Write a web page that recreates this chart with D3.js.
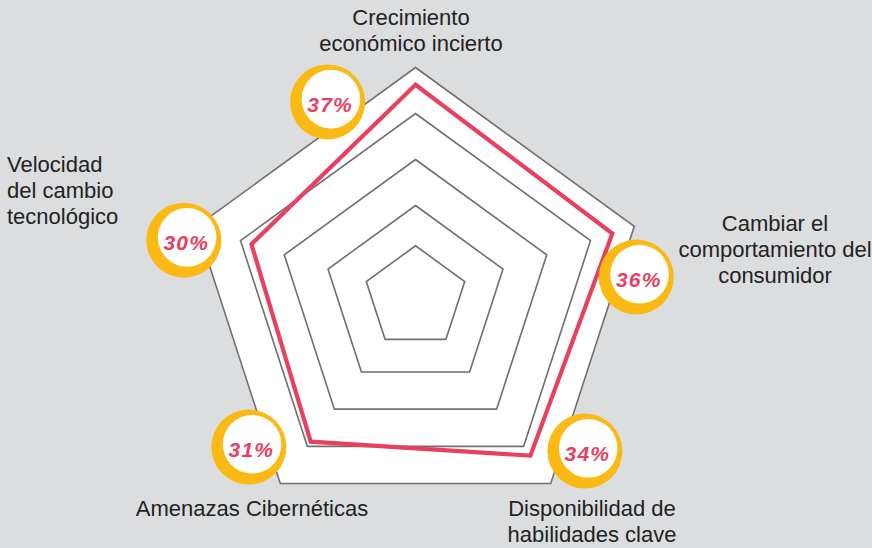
<!DOCTYPE html>
<html>
<head>
<meta charset="utf-8">
<script src="https://cdn.jsdelivr.net/npm/d3@7/dist/d3.min.js"></script>
<style>
  html, body { margin: 0; padding: 0; background: #dcdddf; }
  svg { display: block; }
</style>
</head>
<body>
<svg id="chart" width="872" height="548"></svg>
<script>
// Risk categories (clockwise from the top) and their shares in percent
const categories = [
  ["Crecimiento", "económico incierto"],
  ["Cambiar el", "comportamiento del", "consumidor"],
  ["Disponibilidad de", "habilidades clave"],
  ["Amenazas Cibernéticas"],
  ["Velocidad", "del cambio", "tecnológico"]
];
const values = [37, 36, 34, 31, 30];
const valueLabels = ["37%", "36%", "34%", "31%", "30%"];
// Grid rings, in percent
const ringLevels = [9, 16, 24, 32, 40];

const W = 872, H = 548;
const cx = 415.5, cy = 297.5;
const svg = d3.select("#chart");

const r = d3.scaleLinear().domain([0, 40]).range([0, 230]);
const angle = d3.scaleLinear().domain([0, categories.length]).range([0, 2 * Math.PI]);

const point = (i, rad) => [
  cx + rad * Math.sin(angle(i)),
  cy - rad * Math.cos(angle(i))
];

const polygon = rad => categories.map((_, i) => point(i, rad));
const line = d3.line().curve(d3.curveLinearClosed);

// Grid: outer ring filled white, inner rings as outlines
const grid = svg.append("g");
grid.selectAll("path")
  .data(ringLevels.slice().reverse())
  .join("path")
  .attr("d", d => line(polygon(r(d))))
  .attr("fill", (d, i) => i === 0 ? "#ffffff" : "none")
  .attr("stroke", "#6f6f6f")
  .attr("stroke-width", 1.6)
  .attr("stroke-linejoin", "miter");

// Data outline
svg.append("path")
  .attr("d", line(values.map((v, i) => point(i, r(v)))))
  .attr("fill", "none")
  .attr("stroke", "#e8405f")
  .attr("stroke-width", 4.2)
  .attr("stroke-linejoin", "miter");

// Value badges, placed around each spoke (angle shift in degrees, distance in px)
const badgeShift = [-24.2, 12.7, -11.8, 12.1, -4.1];
const badgeDist = [214.4, 221.7, 228.7, 223.9, 238.7];
const badges = svg.append("g")
  .selectAll("g")
  .data(values)
  .join("g")
  .attr("transform", (d, i) => {
    const a = angle(i) + badgeShift[i] * Math.PI / 180;
    const x = cx + badgeDist[i] * Math.sin(a);
    const y = cy - badgeDist[i] * Math.cos(a);
    return `translate(${x},${y})`;
  });
badges.append("circle").attr("r", 37.5).attr("fill", "#fbb913");
badges.append("circle").attr("cx", 3.3).attr("cy", -2.8).attr("r", 29.3).attr("fill", "#ffffff");
badges.append("text")
  .attr("x", 2.5)
  .attr("y", 9.8)
  .attr("text-anchor", "middle")
  .attr("font-family", "'Liberation Sans', Arial, sans-serif")
  .attr("font-size", 21)
  .attr("font-weight", "bold")
  .attr("font-style", "italic")
  .attr("letter-spacing", 1.2)
  .attr("fill", "#e8405f")
  .text((d, i) => valueLabels[i]);

// Category labels
const labelPos = [
  { x: 411, y: 25, anchor: "middle" },
  { x: 775, y: 231, anchor: "middle" },
  { x: 592, y: 516, anchor: "middle" },
  { x: 252, y: 516, anchor: "middle" },
  { x: 7, y: 172, anchor: "start" }
];
const lineGap = 26;
svg.append("g")
  .selectAll("text")
  .data(categories)
  .join("text")
  .attr("x", (d, i) => labelPos[i].x)
  .attr("y", (d, i) => labelPos[i].y)
  .attr("text-anchor", (d, i) => labelPos[i].anchor)
  .attr("font-family", "'Liberation Sans', Arial, sans-serif")
  .attr("font-size", 22)
  .attr("fill", "#222222")
  .each(function (lines, i) {
    d3.select(this).selectAll("tspan")
      .data(lines)
      .join("tspan")
      .attr("x", labelPos[i].x)
      .attr("dy", (l, k) => k === 0 ? 0 : lineGap)
      .text(l => l);
  });
</script>
</body>
</html>
